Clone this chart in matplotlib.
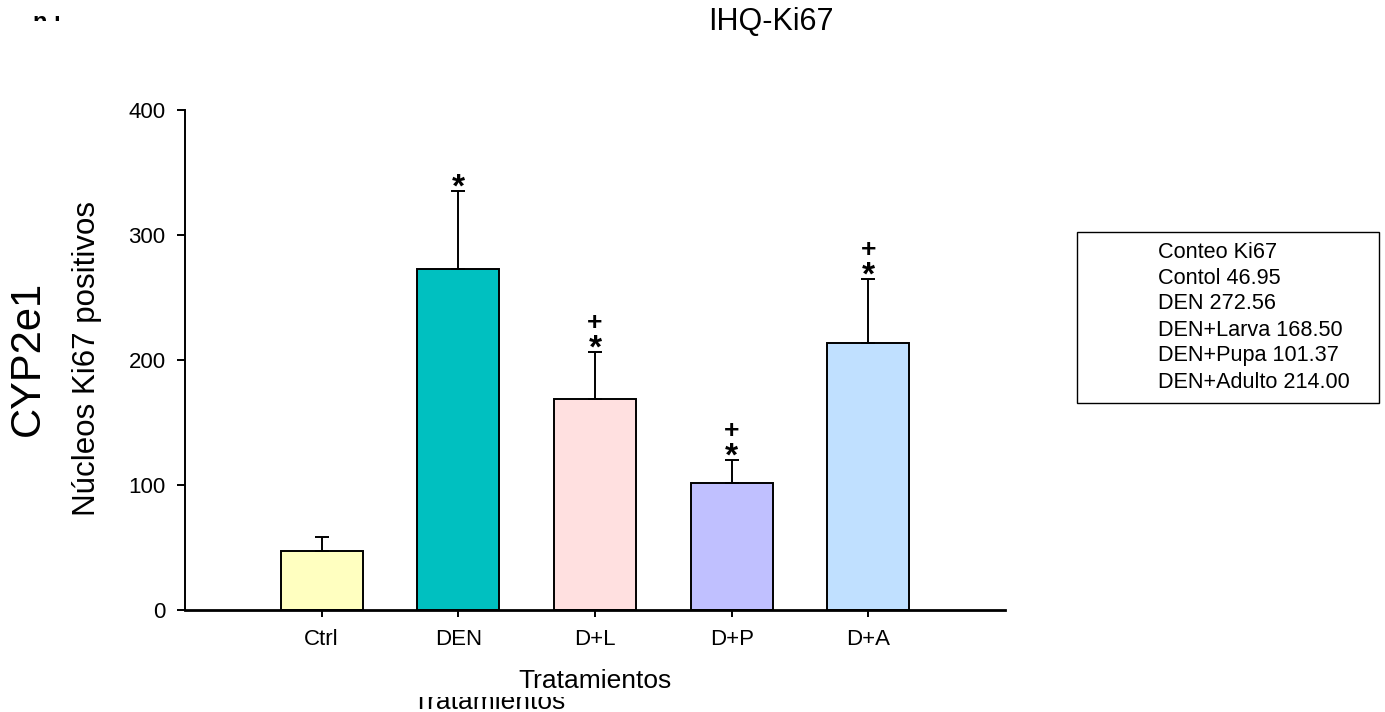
import matplotlib
matplotlib.use("Agg")
import matplotlib.pyplot as plt
from matplotlib.transforms import Bbox

plt.rcParams['font.family'] = ['Liberation Sans', 'DejaVu Sans']

# Data
categories = ["Ctrl", "DEN", "D+L", "D+P", "D+A"]
means = [46.95, 272.56, 168.50, 101.37, 214.00]
errors = [11.5, 62.6, 38.0, 18.6, 50.8]
star_marks = ["", "*", "*", "*", "*"]
plus_marks = ["", "", "+", "+", "+"]
bar_colors = ["#FFFFC0", "#00C0C0", "#FFE0E0", "#C0C0FF", "#C0E0FF"]
yticks = [0, 100, 200, 300, 400]
legend_lines = ["Conteo Ki67", "Contol 46.95", "DEN 272.56",
                "DEN+Larva 168.50", "DEN+Pupa 101.37", "DEN+Adulto 214.00"]

W, H = 1385, 712
fig = plt.figure(figsize=(W / 100, H / 100), dpi=100)
ax = fig.add_axes([185 / W, 1 - 610 / H, (1005 - 185) / W, 500 / H])

x = list(range(len(categories)))
ax.bar(x, means, width=0.6, color=bar_colors, edgecolor="black",
       linewidth=1.4, zorder=2)
ax.errorbar(x, means, yerr=[[0] * len(errors), errors], fmt="none",
            ecolor="black", elinewidth=1.4, capsize=5, capthick=1.4, zorder=3)

for xi, m, e, s, p in zip(x, means, errors, star_marks, plus_marks):
    top = m + e
    if s:
        ax.annotate(s, (xi, top), xytext=(0, 2), textcoords="offset points",
                    ha="center", va="center", fontsize=24, fontweight="bold")
    if p:
        ax.annotate(p, (xi, top), xytext=(0, 21), textcoords="offset points",
                    ha="center", va="center", fontsize=19, fontweight="bold")

ax.set_xlim(-1, 5)
ax.set_ylim(0, 400)
ax.set_xticks(x)
ax.set_xticklabels(categories)
ax.set_yticks(yticks)
ax.tick_params(axis="both", labelsize=16, direction="out", width=1.4)
ax.tick_params(axis="y", length=6, pad=8)
ax.tick_params(axis="x", length=5, pad=9)
for side in ("top", "right"):
    ax.spines[side].set_visible(False)
ax.spines["left"].set_linewidth(1.4)
ax.spines["bottom"].set_linewidth(2.0)

ax.set_xlabel("Tratamientos", fontsize=19, labelpad=13)

fig.text(87 / W, 1 - 358 / H, "Núcleos Ki67 positivos", rotation=90,
         ha="center", va="center", fontsize=22.5)
fig.text(28 / W, 1 - 358 / H, "CYP2e1", rotation=90,
         ha="center", va="center", fontsize=30)
fig.text(771 / W, 1 - 22 / H, "IHQ-Ki67", ha="center", va="center",
         fontsize=22)

# lower axis title, upper part hidden
low = fig.text(489 / W, 1 - 709 / H, "Tratamientos", ha="center",
               va="baseline", fontsize=19)
low.set_clip_box(Bbox([[0, 0], [W, H - 697]]))
low.set_clip_on(True)

# clipped fragment in the upper-left corner
frag = fig.text(47 / W, 1 - 29 / H, "n ı", ha="center", va="baseline",
                fontsize=17, fontweight="bold")
frag.set_clip_box(Bbox([[0, H - 21], [120, H]]))
frag.set_clip_on(True)

# statistics box
box = plt.Rectangle((1077 / W, 1 - 403 / H), (1379 - 1077) / W,
                    (403 - 232) / H, transform=fig.transFigure,
                    fill=False, edgecolor="black", linewidth=1.0)
fig.add_artist(box)
for i, line in enumerate(legend_lines):
    fig.text(1158 / W, 1 - (252 + i * 26.0) / H, line, ha="left",
             va="center", fontsize=15.6)

fig.savefig("out.png", dpi=100, facecolor="white")
